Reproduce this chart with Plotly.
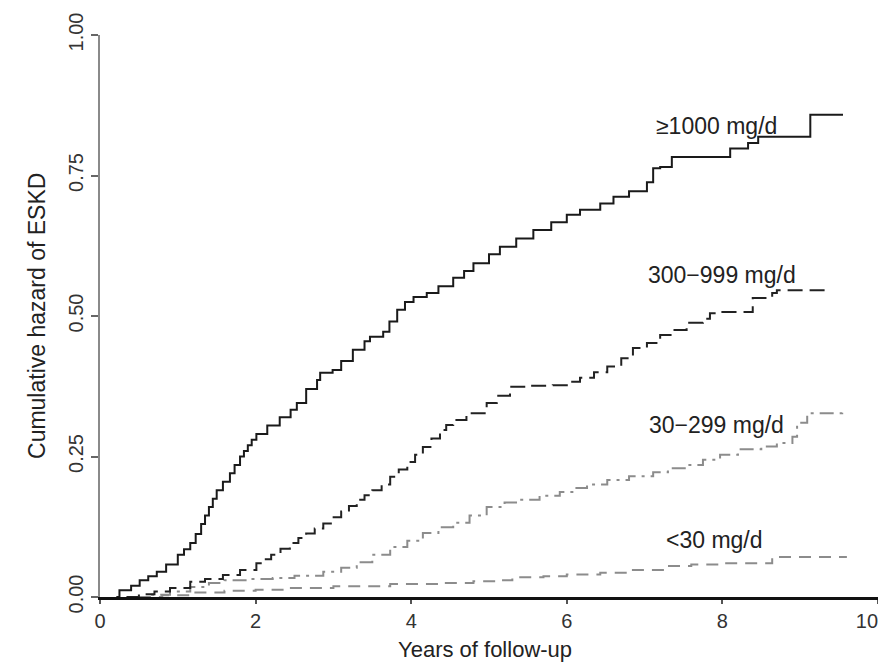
import plotly.graph_objects as go

# ---- data ----
x_1000 = [0.21, 0.25, 0.4, 0.51, 0.62, 0.73, 0.85, 1.0, 1.08, 1.16, 1.23, 1.3, 1.35, 1.4, 1.45,
          1.5, 1.58, 1.67, 1.73, 1.8, 1.85, 1.9, 1.95, 2.01, 2.15, 2.31, 2.45, 2.53, 2.65, 2.79,
          2.83, 2.99, 3.1, 3.25, 3.4, 3.47, 3.64, 3.72, 3.82, 3.92, 4.03, 4.2, 4.35, 4.54, 4.68,
          4.8, 5.0, 5.14, 5.35, 5.57, 5.8, 6.0, 6.17, 6.43, 6.6, 6.8, 7.03, 7.11, 7.2, 7.35,
          8.1, 8.33, 8.46, 9.13, 9.55]
y_1000 = [0.0, 0.012, 0.02, 0.03, 0.037, 0.045, 0.058, 0.075, 0.085, 0.096, 0.112, 0.13, 0.145,
          0.16, 0.175, 0.19, 0.205, 0.22, 0.235, 0.25, 0.26, 0.27, 0.28, 0.29, 0.305, 0.32,
          0.333, 0.345, 0.37, 0.386, 0.399, 0.404, 0.42, 0.44, 0.455, 0.463, 0.472, 0.49, 0.511,
          0.525, 0.534, 0.541, 0.553, 0.568, 0.58, 0.594, 0.61, 0.623, 0.638, 0.653, 0.667,
          0.68, 0.689, 0.70, 0.712, 0.722, 0.738, 0.763, 0.765, 0.783, 0.798, 0.808, 0.819,
          0.858, 0.858]

x_300 = [0.34, 0.5, 0.7, 0.9, 1.16, 1.35, 1.58, 1.8, 2.01, 2.1, 2.2, 2.32, 2.44, 2.55, 2.65,
         2.76, 2.87, 2.98, 3.1, 3.2, 3.3, 3.4, 3.5, 3.62, 3.73, 3.84, 3.95, 4.05, 4.15, 4.26,
         4.37, 4.45, 4.54, 4.71, 4.97, 5.1, 5.27, 5.5, 5.82, 6.0, 6.17, 6.35, 6.52, 6.7, 6.85,
         7.03, 7.2, 7.37, 7.54, 7.75, 7.84, 8.0, 8.39, 8.64, 8.7, 9.38]
y_300 = [0.0, 0.005, 0.01, 0.016, 0.027, 0.032, 0.039, 0.048, 0.06, 0.067, 0.075, 0.086, 0.096,
         0.105, 0.113, 0.122, 0.131, 0.142, 0.152, 0.162, 0.173, 0.181, 0.19, 0.2, 0.214,
         0.227, 0.24, 0.253, 0.267, 0.282, 0.297, 0.306, 0.315, 0.327, 0.345, 0.358, 0.374,
         0.376, 0.377, 0.383, 0.39, 0.4, 0.41, 0.425, 0.443, 0.452, 0.466, 0.475, 0.488,
         0.495, 0.505, 0.507, 0.532, 0.541, 0.546, 0.546]

x_30 = [0.43, 0.6, 0.9, 1.16, 1.4, 1.6, 1.93, 2.22, 2.5, 2.87, 3.1, 3.3, 3.5, 3.73, 3.95, 4.15,
        4.35, 4.54, 4.75, 4.97, 5.2, 5.4, 5.65, 5.91, 6.1, 6.26, 6.52, 6.8, 7.11, 7.3, 7.54,
        7.75, 7.97, 8.2, 8.5, 8.7, 8.9, 8.96, 9.09, 9.54]
y_30 = [0.0, 0.004, 0.01, 0.018, 0.025, 0.03, 0.032, 0.034, 0.038, 0.045, 0.052, 0.062, 0.075,
        0.089, 0.1, 0.114, 0.124, 0.132, 0.145, 0.16, 0.168, 0.173, 0.18, 0.187, 0.194, 0.2,
        0.208, 0.215, 0.222, 0.229, 0.235, 0.244, 0.253, 0.263, 0.268, 0.274, 0.285, 0.31,
        0.327, 0.329]

x_lt30 = [0.5, 0.8, 1.16, 1.6, 2.0, 2.44, 3.0, 3.73, 4.37, 4.8, 5.1, 5.3, 5.7, 6.0, 6.43, 6.8,
          7.29, 7.6, 8.0, 8.64, 9.6]
y_lt30 = [0.0, 0.003, 0.008, 0.011, 0.013, 0.016, 0.019, 0.023, 0.025, 0.028, 0.03, 0.035, 0.037,
          0.04, 0.043, 0.048, 0.055, 0.058, 0.06, 0.071, 0.071]

labels = ["≥1000 mg/d", "300−999 mg/d", "30−299 mg/d", "<30 mg/d"]
label_x = [7.92, 8.0, 7.93, 7.9]
label_y = [0.838, 0.573, 0.306, 0.101]

x_ticks = [0, 2, 4, 6, 8, 10]
x_ticktext = ["0", "2", "4", "6", "8", "10\u00a0\u00a0\u00a0\u00a0"]  # NBSP padding keeps "10" inside the page
y_ticks = [0.0, 0.25, 0.5, 0.75, 1.0]

FONT = "Liberation Sans, Arial, sans-serif"

fig = go.Figure()
series = [
    (x_lt30, y_lt30, dict(color="#8c8c8c", width=2, dash="12px,8px")),
    (x_30, y_30, dict(color="#8c8c8c", width=2, dash="14px,6px,3px,6px")),
    (x_300, y_300, dict(color="#222222", width=2, dash="15px,7px")),
    (x_1000, y_1000, dict(color="#1a1a1a", width=2)),
]
for xs, ys, ln in series:
    fig.add_trace(go.Scatter(x=xs, y=ys, mode="lines", line=dict(shape="hv", **ln),
                             showlegend=False, hoverinfo="skip", cliponaxis=False))

for t, lx, ly in zip(labels, label_x, label_y):
    fig.add_annotation(x=lx, y=ly, text=t, showarrow=False, xanchor="center", yanchor="middle",
                       font=dict(family=FONT, size=23, color="#222222"))

fig.add_annotation(xref="paper", yref="paper", x=-0.081, y=0.5, text="Cumulative hazard of ESKD",
                   textangle=-90, showarrow=False, xanchor="center", yanchor="middle",
                   font=dict(family=FONT, size=23, color="#222222"))
fig.add_annotation(xref="paper", yref="paper", x=0.495, y=-0.094, text="Years of follow-up",
                   showarrow=False, xanchor="center", yanchor="middle",
                   font=dict(family=FONT, size=22, color="#222222"))

# page has an 8px body margin, so the figure is sized/offset to compensate
fig.update_layout(
    width=878, height=656,
    margin=dict(l=92, r=8, t=27, b=67, autoexpand=False),
    paper_bgcolor="white", plot_bgcolor="white",
    font=dict(family=FONT, size=20, color="#333333"),
    xaxis=dict(range=[0, 10], tickvals=x_ticks, ticktext=x_ticktext,
               automargin=False,
               showgrid=False, zeroline=False, showline=True, linecolor="#111111", linewidth=3,
               ticks="outside", ticklen=4, tickwidth=1.5, tickcolor="#555555",
               ticklabeloverflow="allow",
               tickfont=dict(family=FONT, size=20, color="#333333")),
    yaxis=dict(range=[0, 1], tickvals=y_ticks, ticktext=["%.2f" % v for v in y_ticks],
               automargin=False,
               showgrid=False, zeroline=False, showline=True, linecolor="#8a8a8a", linewidth=2,
               ticks="outside", ticklen=7, tickwidth=1.5, tickcolor="#666666", tickangle=-90,
               ticklabeloverflow="allow",
               tickfont=dict(family=FONT, size=20, color="#333333")),
)

fig.write_html("out.html")
